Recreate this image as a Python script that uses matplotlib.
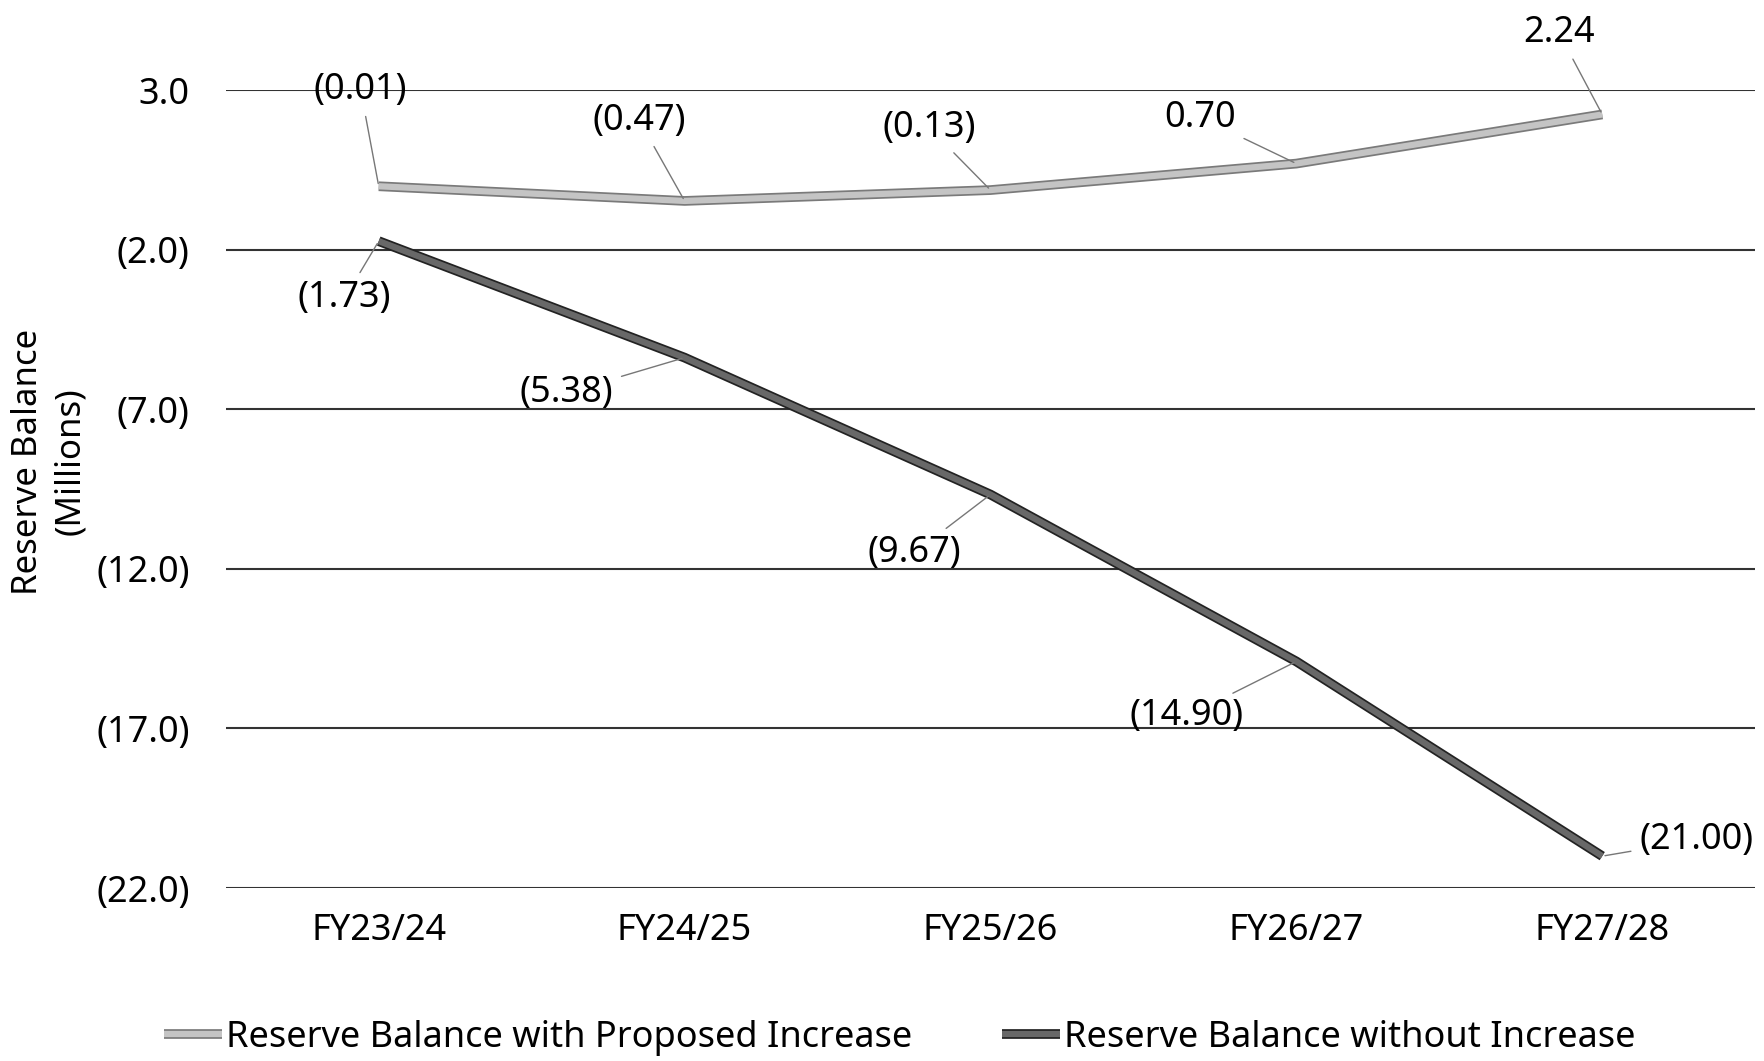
import matplotlib
matplotlib.use("Agg")
import matplotlib.pyplot as plt
import matplotlib.patheffects as pe

years = ["FY23/24", "FY24/25", "FY25/26", "FY26/27", "FY27/28"]
with_increase = [-0.01, -0.47, -0.13, 0.70, 2.24]
without_increase = [-1.73, -5.38, -9.67, -14.90, -21.00]
yticks = [3.0, -2.0, -7.0, -12.0, -17.0, -22.0]

# label offsets in pixels (dx, dy) from each point
offs_with = [(-18, 96), (-45, 80), (-61, 62), (-96, 46), (-43, 81)]
offs_without = [(-34, -57), (-118, -35), (-76, -58), (-110, -55), (94, 16)]


def fmt(v):
    if v < 0:
        return "({:.2f})".format(-v)
    return "{:.2f}".format(v)


def fmt_tick(v):
    if v < 0:
        return "({:.1f})".format(-v)
    return "{:.1f}".format(v)


plt.rcParams['font.family'] = ['Noto Sans', 'DejaVu Sans']

fig = plt.figure(figsize=(17.64, 10.61), dpi=100)
ax = fig.add_axes([0.128, 0.163, 0.867, 0.752])

x = list(range(len(years)))

l1, = ax.plot(x, with_increase, color='#c4c4c4', lw=4.5, solid_capstyle='butt',
              path_effects=[pe.Stroke(linewidth=7, foreground='#7a7a7a'), pe.Normal()],
              label='Reserve Balance with Proposed Increase', zorder=3)
l2, = ax.plot(x, without_increase, color='#686868', lw=4.5, solid_capstyle='butt',
              path_effects=[pe.Stroke(linewidth=7, foreground='#222222'), pe.Normal()],
              label='Reserve Balance without Increase', zorder=3)

for xs, ys, offs in [(x, with_increase, offs_with), (x, without_increase, offs_without)]:
    for xi, yi, (dx, dy) in zip(xs, ys, offs):
        ax.annotate(fmt(yi), xy=(xi, yi), xytext=(dx, dy), textcoords='offset pixels',
                    ha='center', va='center', fontsize=26, color='black',
                    arrowprops=dict(arrowstyle='-', color='#777777', lw=1,
                                    shrinkA=4, shrinkB=2), zorder=4)

ax.set_xlim(-0.5, 4.5)
ax.set_ylim(-22, 3)
ax.set_yticks(yticks)
ax.set_yticklabels([fmt_tick(v) for v in yticks])
ax.set_xticks(x)
ax.set_xticklabels(years)
ax.tick_params(axis='both', length=0, labelsize=26, colors='black')
ax.tick_params(axis='x', pad=18)
ax.tick_params(axis='y', pad=26)
ax.grid(axis='y', color='#333333', lw=1.5)
ax.set_axisbelow(True)
for s in ax.spines.values():
    s.set_visible(False)

fig.text(0.028, 0.565, "Reserve Balance\n(Millions)", rotation=90, ha='center', va='center',
         fontsize=25, linespacing=1.3)

fig.legend(handles=[l1, l2], loc='lower center', bbox_to_anchor=(0.51, -0.026), ncol=2,
           frameon=False, fontsize=26, handlelength=1.6, handletextpad=0.1,
           columnspacing=2.5)

fig.savefig("out.png", dpi=100)
